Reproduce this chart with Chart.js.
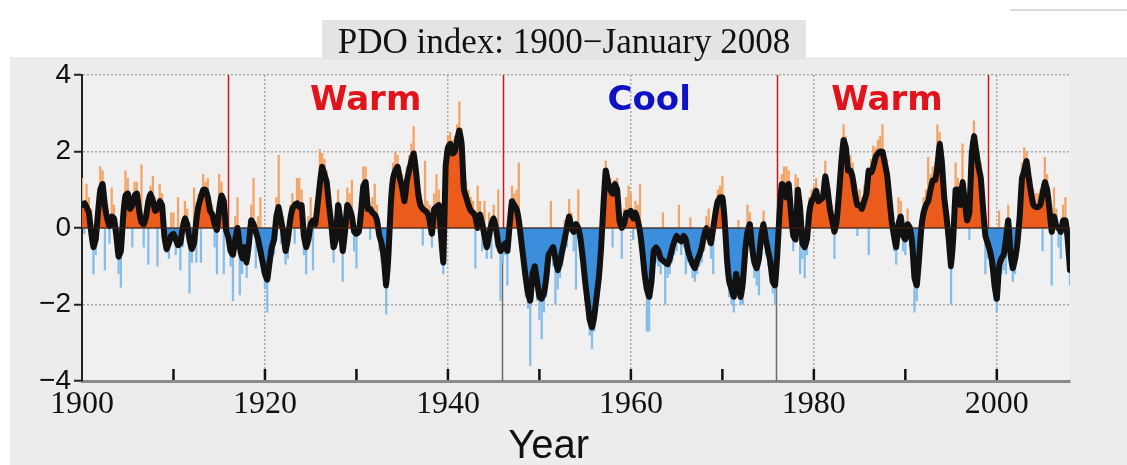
<!DOCTYPE html>
<html>
<head>
<meta charset="utf-8">
<title>PDO index: 1900-January 2008</title>
<script src="https://cdn.jsdelivr.net/npm/chart.js@4.4.1/dist/chart.umd.min.js"></script>
<style>
    html, body { margin: 0; padding: 0; background: #ffffff; }
    canvas { display: block; }
</style>
</head>
<body>
<canvas id="pdoChart" width="1127" height="465"></canvas>
<script>
// PDO index at 4 values per year (1900 to Jan 2008)
const startYear = 1900;
const stepsPerYear = 4;

// smoothed index (thick black line)
const smoothValues = [
    0.6, 0.65, 0.55, 0.4,     -0.1, -0.5, -0.3, 0.4,     1.0, 1.15, 0.6, 0.25,     0.05, 0.3, 0.25, -0.2,
    -0.75, -0.6, 0.3, 0.85,   0.9, 0.5, 0.6, 0.85,       0.9, 0.45, 0.15, 0.1,     0.3, 0.7, 0.9, 0.7,
    0.45, 0.5, 0.7, 0.6,      -0.2, -0.55, -0.4, -0.2,   -0.15, -0.3, -0.45, -0.4, 0.0, 0.25, 0.1, -0.3,
    -0.55, -0.4, 0.2, 0.6,    0.8, 1.0, 1.0, 0.8,        0.45, 0.35, 0.1, -0.05,   0.5, 0.85, 0.7, -0.05,
    -0.25, -0.6, -0.7, -0.3,  0.0, -0.5, -0.8, -0.5,     -0.9, -0.4, 0.2, 0.1,     -0.1, -0.3, -0.6, -0.9,
    -1.2, -1.35, -0.9, -0.5,  -0.3, 0.3, 0.55, 0.2,      -0.1, -0.6, -0.3, 0.2,    0.5, 0.6, 0.65, 0.55,
    0.6, -0.2, -0.5, -0.3,    0.1, 0.2, 0.1, 0.6,        1.15, 1.6, 1.4, 1.2,      0.6, 0.1, -0.5, -0.3,
    0.6, 0.2, -0.6, -0.1,     0.6, 0.5, 0.3, -0.1,       -0.15, -0.1, 0.4, 1.1,    1.2, 0.5, 0.5, 0.4,
    0.35, 0.2, -0.2, -0.4,    -0.8, -1.5, -0.7, 0.6,     1.3, 1.5, 1.6, 1.3,       1.05, 0.7, 1.2, 1.5,
    1.75, 1.95, 1.5, 0.9,     0.6, 0.5, 0.45, 0.4,       0.2, -0.15, 0.5, 0.55,    0.6, -0.2, -0.9, 1.6,
    2.1, 2.2, 1.95, 2.0,      2.3, 2.55, 2.2, 1.0,       0.8, 0.6, 0.45, 0.4,      0.3, 0.0, 0.35, 0.1,
    -0.2, -0.5, -0.2, 0.1,    0.25, 0.0, -0.4, -0.6,     -0.5, -0.4, -0.6, 0.1,    0.7, 0.6, 0.5, 0.2,
    -0.3, -0.8, -1.3, -1.7,   -1.9, -1.2, -1.0, -1.4,    -1.8, -1.85, -1.7, -1.3,  -0.7, -0.6, -0.5, -0.8,
    -1.1, -0.9, -0.6, -0.3,   0.0, 0.3, 0.0, -0.1,       0.1, 0.0, -0.3, -0.8,     -1.4, -1.9, -2.4, -2.6,
    -2.3, -1.8, -1.3, -0.5,   0.6, 1.5, 1.2, 1.0,        0.9, 1.15, 1.0, 0.2,      0.0, 0.1, 0.4, 0.35,
    0.45, 0.25, 0.4, 0.2,     -0.1, -0.6, -1.2, -1.6,    -1.8, -1.4, -0.6, -0.5,   -0.6, -0.8, -0.85, -0.9,
    -0.95, -0.8, -0.55, -0.35, -0.2, -0.3, -0.35, -0.2,  -0.3, -0.6, -0.8, -0.95,  -1.05, -0.85, -0.7, -0.5,
    -0.2, 0.0, -0.2, -0.4,    0.0, 0.4, 0.7, 0.8,        0.8, 0.2, -0.8, -1.4,     -1.6, -1.8, -1.2, -1.5,
    -1.8, -1.4, -0.6, -0.1,   0.1, -0.5, -0.9, -1.05,    -0.8, -0.2, 0.1, -0.3,    -0.6, -0.9, -1.4, -1.5,
    -0.7, 0.4, 1.15, 1.1,     0.8, 1.15, 0.4, -0.2,      -0.3, 1.0, 0.5, -0.4,     -0.5, -0.3, 0.4, 0.7,
    0.8, 0.97, 0.7, 0.75,     0.8, 1.35, 1.0, 0.5,       0.2, -0.1, 0.2, 0.9,      1.7, 2.3, 2.1, 1.5,
    1.5, 1.3, 0.9, 0.6,       0.6, 0.5, 0.7, 0.9,        1.5, 1.45, 1.6, 1.85,     1.95, 2.0, 2.0, 1.7,
    1.4, 0.8, 0.2, -0.2,      -0.5, 0.1, 0.3, -0.2,      -0.3, 0.1, 0.0, -0.4,     -1.3, -1.5, -0.8, 0.0,
    0.4, 0.6, 0.7, 1.0,       1.25, 1.25, 1.6, 2.2,      1.7, 0.8, 0.3, -0.3,      -1.0, -0.2, 1.0, 1.0,
    0.6, 1.2, 0.7, 0.2,       0.4, 1.9, 2.4, 2.0,        1.6, 1.3, 0.5, -0.2,      -0.4, -0.6, -0.9, -1.5,
    -1.85, -1.0, -0.8, -0.7,  -0.3, 0.2, -0.7, -1.05,    -0.8, -0.4, 0.3, 1.3,     1.5, 1.75, 1.3, 0.9,
    0.6, 0.55, 0.55, 0.6,     0.9, 1.2, 1.0, 0.5,        -0.1, 0.3, 0.05, 0.0,     -0.1, 0.2, 0.2, -0.3,
    -1.1
];

// monthly spikes (light bars), one per quarter
const monthlyValues = [
    1.3, -0.15, 1.15, 0.8,    0.5, -1.2, -0.7, 0.9,      1.6, 1.5, -1.1, 0.6,      -0.4, 1.05, 0.6, -0.6,
    -1.2, -1.55, 0.7, 1.5,    1.3, 0.9, -0.5, 1.2,       1.2, 0.8, 1.65, -0.5,     0.6, -0.95, 1.1, 1.35,
    0.8, -1.0, 1.15, 0.9,     0.3, -0.65, -0.8, 0.4,     0.4, -0.7, 0.8, -1.1,     -0.5, 0.7, 0.5, -1.7,
    -0.9, 1.05, -0.9, 0.9,    -0.9, 1.4, 1.2, 1.3,       0.8, 0.6, -0.5, -1.2,     1.4, 1.2, -1.2, 0.4,
    -0.6, -1.0, -1.9, 0.3,    0.8, -1.75, -1.2, -0.9,    -1.3, -0.8, 0.6, 1.3,     -1.05, 0.3, 0.8, -1.2,
    -1.6, -2.2, -1.3, -0.9,   -0.7, 0.8, 1.9, -0.4,      0.3, -0.95, -0.8, 0.6,    0.9, -0.4, 1.3, 1.3,
    1.0, -0.7, -1.2, 0.3,     0.8, -1.1, 0.5, 1.0,       2.05, 1.95, 1.8, 1.5,     1.0, 0.5, -0.9, 0.3,
    1.0, 0.6, -1.4, 0.4,      1.05, 0.9, 1.25, -0.6,     -1.05, 0.4, 0.9, 1.6,     1.6, 0.9, -0.3, 0.8,
    1.15, 0.6, -0.6, -0.9,    -1.3, -2.25, -1.0, 1.0,    1.7, 2.0, 1.9, 1.6,       1.4, 1.0, 1.6, 1.9,
    2.2, 2.65, 1.9, 1.3,      0.9, -0.45, 1.75, 0.7,     0.6, -0.5, 0.9, 1.4,      1.0, -0.6, -1.2, 2.0,
    2.4, 2.5, 2.3, 2.4,       2.7, 3.3, 2.6, 1.4,        1.2, 1.0, 0.8, 0.7,       -1.05, 1.1, 0.7, -0.6,
    0.7, -0.8, 0.4, -0.8,     0.6, -0.5, 1.0, -1.9,      -0.9, -0.7, -1.5, 0.5,    1.1, 0.9, 1.0, 1.7,
    -0.7, -1.2, -1.8, -2.1,   -3.6, -1.8, -1.5, -1.9,    -2.4, -2.9, -2.2, -1.8,   -1.2, 0.7, -1.0, -2.0,
    -1.6, -1.3, -1.0, 0.2,    -0.5, 0.75, 0.4, -0.6,     -1.6, 1.0, -0.8, -1.2,    -1.9, -2.4, -2.8, -3.15,
    -2.7, -2.2, -1.8, -1.0,   1.0, 1.75, 1.5, 1.3,       -0.5, 1.25, 1.3, 0.6,     -0.8, 0.5, 0.8, 1.1,
    0.9, -0.3, 0.7, 0.6,      1.15, -1.0, -1.6, -2.7,    -2.7, -1.8, -1.0, -0.9,   -1.0, -1.2, 0.4, -2.0,
    -1.3, -1.2, -0.9, -0.7,   -0.6, 0.6, -0.7, -0.5,     -1.2, -0.9, 0.27, -1.3,   -1.4, -1.2, -1.0, -0.9,
    -0.6, 0.3, 0.5, -0.8,     -1.2, 0.7, 1.0, 1.1,       1.35, 0.6, -1.2, -1.8,    -2.0, -2.2, -1.6, 0.2,
    -2.0, -2.0, -1.0, 0.6,    0.4, -0.9, -1.3, -1.5,     -1.75, -0.6, 0.45, -0.7,  -1.0, -1.3, -1.7, -2.0,
    -1.1, 0.8, 1.4, 1.6,      1.6, 1.5, 0.8, -0.6,       1.4, 1.3, -1.2, -0.8,     -1.3, -0.7, 0.8, 1.0,
    1.1, 1.3, 1.0, 0.2,       1.2, 1.75, 1.3, 0.8,       0.6, -0.8, 0.5, 1.2,      2.1, 2.7, 2.4, 1.8,
    1.9, 1.7, 1.2, -0.2,      1.0, 0.8, 1.1, 1.3,        -0.7, 1.8, 2.15, 2.1,     2.3, 2.4, 2.7, 2.0,
    1.8, 1.2, 0.6, -0.6,      -0.95, 0.8, 0.7, -0.6,     -0.7, 0.5, -0.5, -0.8,    -2.2, -1.9, -1.2, 0.4,
    0.8, 1.0, 1.85, 1.4,      1.6, 1.7, 2.7, 2.5,        2.0, 1.2, 0.7, -0.7,      -2.0, -0.6, 1.7, 1.3,
    1.0, 2.2, 1.1, 0.6,       -0.3, 2.3, 2.8, 2.4,       2.0, 1.7, 0.9, -1.2,      -0.8, -1.0, -1.3, -1.9,
    -2.2, 0.45, -1.2, -1.1,   -1.2, 0.6, -1.1, -1.4,     -1.2, -0.8, 0.7, 1.7,     2.1, 2.0, 1.6, 1.3,
    1.0, 0.9, 0.9, 1.0,       -0.6, 1.85, 1.4, 0.9,      -1.5, 1.05, 0.5, -0.5,    -0.8, 0.6, 0.8, -0.7,
    -1.5
];

// regime shifts and their names
const regimeYears = [1916, 1946, 1976, 1999];
const coolEdgeYears = [1946, 1976];
const regimeNames = ['Warm', 'Cool', 'Warm'];
const regimeNameYears = [1931, 1962, 1988];
const regimeNameColors = ['#e0141a', '#1010c4', '#e0141a'];

const yTickValues = [-4, -2, 0, 2, 4];
const yGridValues = [-2, 2, 4];
const xTickYears = [1900, 1910, 1920, 1930, 1940, 1950, 1960, 1970, 1980, 1990, 2000];
const xLabelYears = [1900, 1920, 1940, 1960, 1980, 2000];

const toPoints = arr => arr.map((v, i) => ({ x: startYear + i / stepsPerYear, y: v }));

// background, title, regime lines, ticks and labels
const pdoDecor = {
    id: 'pdoDecor',
    beforeDraw(chart) {
        const { ctx, chartArea: a } = chart;
        ctx.save();
        ctx.fillStyle = '#ffffff';
        ctx.fillRect(0, 0, chart.width, chart.height);
        ctx.fillStyle = '#ececec';
        ctx.fillRect(10, 57, chart.width - 10, chart.height - 57);
        ctx.fillStyle = '#f0f0f0';
        ctx.fillRect(a.left, a.top, a.right - a.left, a.bottom - a.top);
        ctx.fillStyle = '#dcdcdc';
        ctx.fillRect(1010, 9, 117, 2);

        ctx.fillStyle = '#e4e4e4';
        ctx.fillRect(322, 20, 484, 40);
        ctx.fillStyle = '#111111';
        ctx.font = '35px "Liberation Serif"';
        ctx.textAlign = 'center';
        ctx.textBaseline = 'alphabetic';
        ctx.fillText('PDO index: 1900\u2212January 2008', 564, 53);
        ctx.restore();
    },
    beforeDatasetsDraw(chart) {
        const { ctx, scales: { x, y } } = chart;
        ctx.save();
        ctx.lineWidth = 1.5;
        ctx.strokeStyle = '#d01818';
        regimeYears.forEach(yr => {
            const px = Math.round(x.getPixelForValue(yr)) + 0.5;
            ctx.beginPath();
            ctx.moveTo(px, y.getPixelForValue(4));
            ctx.lineTo(px, y.getPixelForValue(0));
            ctx.stroke();
        });
        ctx.strokeStyle = '#6e6e6e';
        coolEdgeYears.forEach(yr => {
            const px = Math.round(x.getPixelForValue(yr)) - 0.5;
            ctx.beginPath();
            ctx.moveTo(px, y.getPixelForValue(0));
            ctx.lineTo(px, y.getPixelForValue(-4));
            ctx.stroke();
        });
        ctx.restore();
    },
    afterDatasetsDraw(chart) {
        const { ctx, chartArea: a, scales: { x, y } } = chart;
        ctx.save();
        // zero line
        ctx.strokeStyle = 'rgba(60, 30, 20, 0.85)';
        ctx.lineWidth = 1.5;
        ctx.beginPath();
        ctx.moveTo(a.left, y.getPixelForValue(0));
        ctx.lineTo(a.right, y.getPixelForValue(0));
        ctx.stroke();

        // inward decade ticks
        ctx.strokeStyle = '#111111';
        ctx.lineWidth = 2.5;
        xTickYears.slice(1).forEach(yr => {
            const px = x.getPixelForValue(yr);
            ctx.beginPath();
            ctx.moveTo(px, a.bottom - 1);
            ctx.lineTo(px, a.bottom - 12);
            ctx.stroke();
        });

        // regime names
        ctx.font = 'bold 34px "DejaVu Sans"';
        ctx.textAlign = 'center';
        ctx.textBaseline = 'alphabetic';
        regimeNames.forEach((name, i) => {
            ctx.fillStyle = regimeNameColors[i];
            ctx.fillText(name, x.getPixelForValue(regimeNameYears[i]), y.getPixelForValue(3.08));
        });

        // axis title
        ctx.fillStyle = '#111111';
        ctx.font = '40px "Liberation Sans"';
        ctx.fillText('Year', x.getPixelForValue(1951), 458);
        ctx.restore();
    }
};

const ctx = document.getElementById('pdoChart').getContext('2d');
new Chart(ctx, {
    type: 'bar',
    data: {
        datasets: [
            {
                type: 'line',
                label: 'Smoothed PDO',
                data: toPoints(smoothValues),
                borderColor: '#111111',
                borderWidth: 6,
                borderJoinStyle: 'round',
                borderCapStyle: 'round',
                pointRadius: 0,
                tension: 0.1,
                fill: { target: { value: 0 }, above: '#ea5b1c', below: '#3b8edb' },
                order: 0
            },
            {
                type: 'bar',
                label: 'Monthly PDO',
                data: toPoints(monthlyValues),
                backgroundColor: c => (c.raw && c.raw.y >= 0 ? '#f2a468' : '#86bde8'),
                barThickness: 1.6,
                grouped: false,
                order: 1
            }
        ]
    },
    options: {
        responsive: false,
        animation: false,
        layout: { padding: { top: 75, right: 57, left: 0, bottom: 0 } },
        plugins: {
            legend: { display: false },
            tooltip: { enabled: false }
        },
        scales: {
            x: {
                type: 'linear',
                min: 1900,
                max: 2008,
                offset: false,
                afterBuildTicks: s => { s.ticks = xTickYears.map(v => ({ value: v })); },
                ticks: {
                    autoSkip: false,
                    maxRotation: 0,
                    padding: 4,
                    color: '#111111',
                    font: { family: 'Liberation Serif', size: 32 },
                    callback: v => (xLabelYears.includes(Math.round(v)) ? String(Math.round(v)) : '')
                },
                grid: {
                    offset: false,
                    color: c => {
                        if (!c.tick) return 'transparent';
                        const v = Math.round(c.tick.value);
                        return (xLabelYears.includes(v) && v > 1900) ? '#a9a9a9' : 'transparent';
                    },
                    lineWidth: 1.5,
                    drawTicks: false
                },
                border: { color: '#8a8a8a', width: 3, dash: [2, 2] },
                afterFit: s => { s.height = 84; }
            },
            y: {
                min: -4,
                max: 4,
                afterBuildTicks: s => { s.ticks = yTickValues.map(v => ({ value: v })); },
                ticks: {
                    padding: 3,
                    color: '#111111',
                    font: { family: 'Liberation Sans', size: 28 },
                    callback: v => (v < 0 ? '\u2212' + Math.abs(v) : String(v))
                },
                grid: {
                    color: c => (c.tick && yGridValues.includes(c.tick.value) ? '#a9a9a9' : 'transparent'),
                    lineWidth: 1.5,
                    tickLength: 8,
                    tickColor: '#222222',
                    tickWidth: 2
                },
                border: { color: '#222222', width: 2, dash: [2, 2] },
                afterFit: s => { s.width = 82; }
            }
        }
    },
    plugins: [pdoDecor]
});
</script>
</body>
</html>
